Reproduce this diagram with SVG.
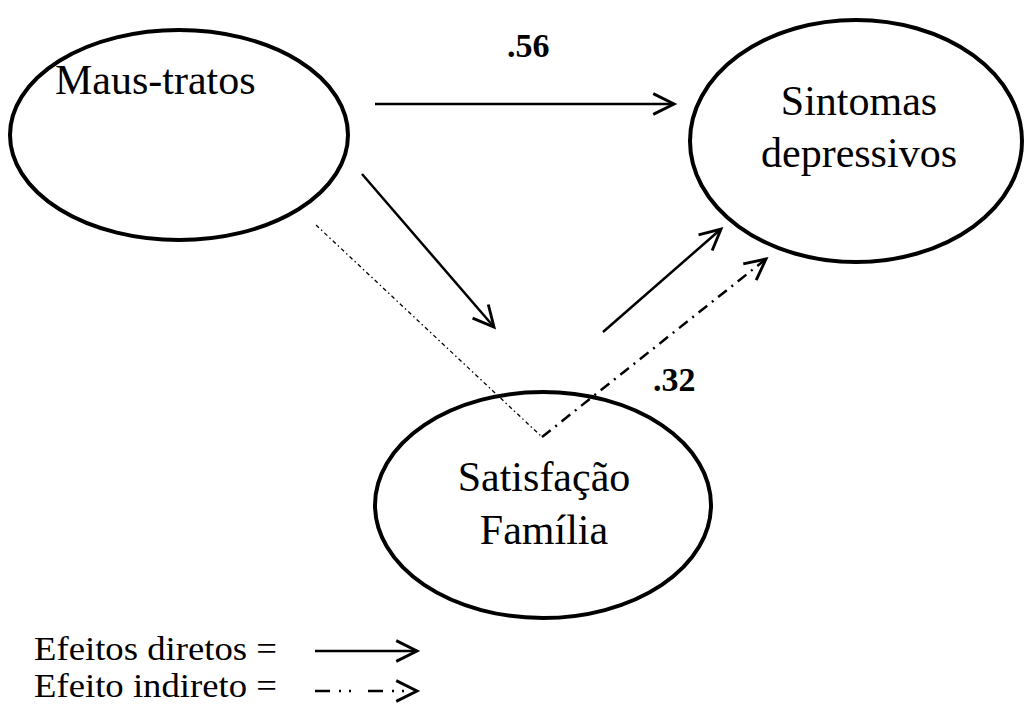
<svg xmlns="http://www.w3.org/2000/svg" width="1025" height="709" viewBox="0 0 1025 709">
  <style>
    .node { fill: #fff; stroke: #000; stroke-width: 4; }
    .label { font-family: "Liberation Serif", "Times New Roman", serif; font-size: 42px; fill: #000; }
    .coef { font-family: "Liberation Serif", "Times New Roman", serif; font-size: 34px; font-weight: bold; fill: #000; }
    .legend { font-family: "Liberation Serif", "Times New Roman", serif; font-size: 33px; fill: #000; }
    .direct { fill: none; stroke: #000; stroke-width: 2.5; marker-end: url(#open-arrow); }
    .indirect { fill: none; stroke: #000; stroke-width: 2.5; stroke-dasharray: 11 6 2 6; marker-end: url(#open-arrow); }
    .indirect-lead { fill: none; stroke: #000; stroke-width: 1.3; stroke-dasharray: 4 3 1.5 3; }
    .legend-indirect { fill: none; stroke: #000; stroke-width: 2.5; stroke-dasharray: 15 9 2 8 2 17; }
  </style>
  <defs>
    <!-- open V arrowhead, drawn solid even on dashed lines -->
    <marker id="open-arrow" markerUnits="userSpaceOnUse" markerWidth="30" markerHeight="30" viewBox="-22 -12 26 24" refX="0" refY="0" orient="auto" overflow="visible">
      <path d="M-18,-9 L0,0 L-18,9" fill="none" stroke="#000" stroke-width="2.5" stroke-dasharray="none"/>
    </marker>
  </defs>

  <!-- nodes -->
  <g id="maus-tratos">
    <ellipse class="node" cx="179" cy="135" rx="169" ry="105"/>
    <text class="label" x="55" y="94">Maus-tratos</text>
  </g>

  <g id="sintomas-depressivos">
    <ellipse class="node" cx="856" cy="141" rx="166" ry="121"/>
    <text class="label" x="859" y="115" text-anchor="middle">Sintomas</text>
    <text class="label" x="859" y="167" text-anchor="middle">depressivos</text>
  </g>

  <g id="satisfacao-familia">
    <ellipse class="node" cx="543" cy="505" rx="168" ry="113"/>
    <text class="label" x="544" y="491" text-anchor="middle">Satisfação</text>
    <text class="label" x="544" y="544" text-anchor="middle">Família</text>
  </g>

  <!-- connectors -->
  <g id="connectors">
    <line class="direct" x1="375" y1="104" x2="674" y2="104"/>
    <line class="direct" x1="362" y1="174" x2="494" y2="327"/>
    <line class="direct" x1="603" y1="332" x2="721" y2="229"/>
    <line class="indirect-lead" x1="316" y1="225" x2="542" y2="437"/>
    <path class="indirect" d="M542,437 L766,259"/>
    <text class="coef" x="507" y="57">.56</text>
    <text class="coef" x="653" y="391">.32</text>
  </g>

  <!-- legend -->
  <g id="legend">
    <text class="legend" x="34" y="660" textLength="243" lengthAdjust="spacingAndGlyphs">Efeitos diretos =</text>
    <text class="legend" x="34" y="697" textLength="243" lengthAdjust="spacingAndGlyphs">Efeito indireto =</text>
    <line class="direct" x1="315" y1="651" x2="417" y2="651"/>
    <line class="legend-indirect" x1="315" y1="691" x2="404" y2="691"/>
    <path d="M404,691 L417,691" fill="none" stroke="none" marker-end="url(#open-arrow)"/>
  </g>
</svg>
